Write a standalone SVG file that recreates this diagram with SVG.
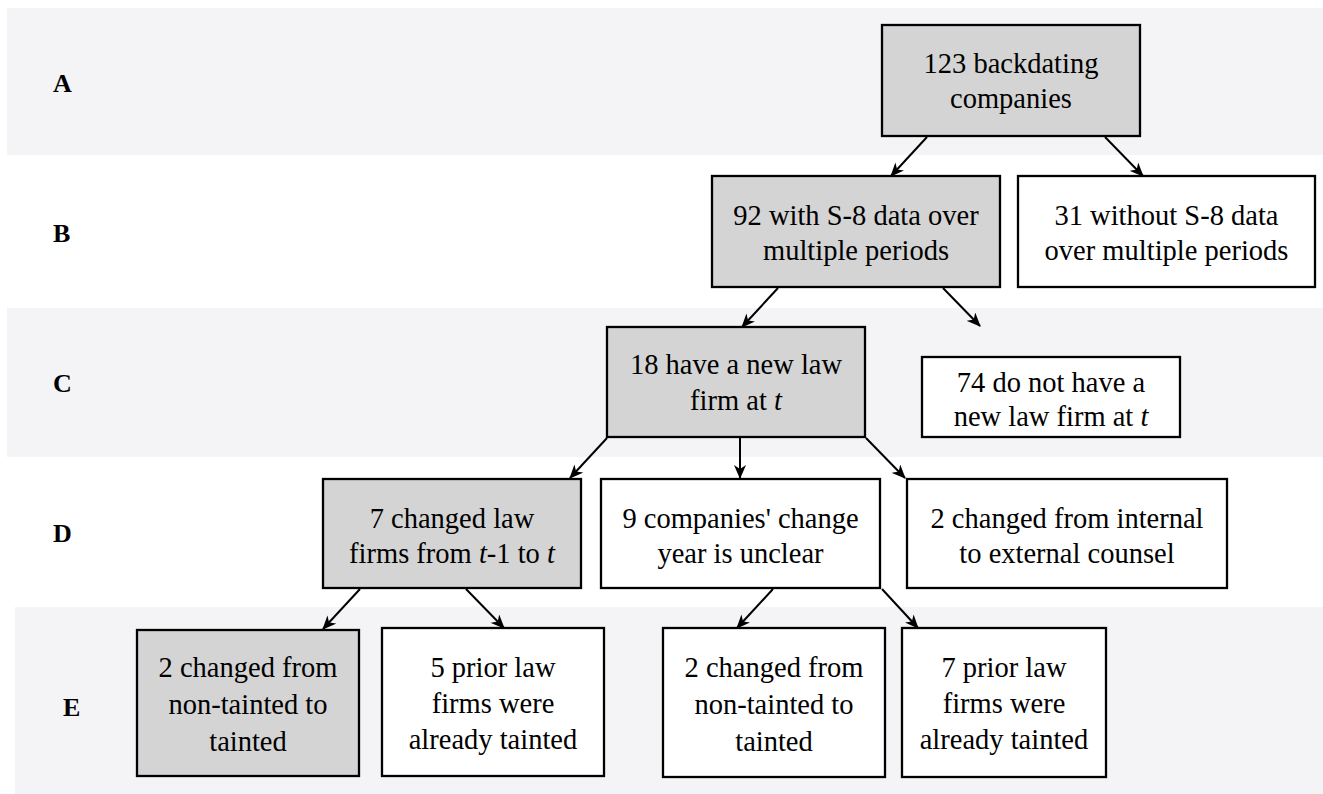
<svg xmlns="http://www.w3.org/2000/svg" width="1323" height="794" viewBox="0 0 1323 794">
<defs>
<style>
.band{fill:#f4f3f6}
.box{stroke:#000;stroke-width:2.3}
.g{fill:#d4d4d4}
.w{fill:#fff}
.t{font-family:'Liberation Serif','DejaVu Serif',serif;font-size:28.5px;font-weight:normal;font-style:normal;fill:#000;text-anchor:middle}
.lab{font-family:'Liberation Serif','DejaVu Serif',serif;font-size:26px;font-weight:bold;fill:#000}
.c{stroke:#000;stroke-width:2;fill:none;marker-end:url(#ah)}
.i{font-style:italic}
</style>
<marker id="ah" viewBox="0 0 14 12" refX="13" refY="6" markerWidth="14" markerHeight="12" markerUnits="userSpaceOnUse" orient="auto">
<path d="M0,0 L14,6 L0,12 L4,6 z" fill="#000"/>
</marker>
</defs>
<rect width="1323" height="794" fill="#fff"/>
<g id="bands">
<rect class="band" x="7" y="8" width="1316" height="147"/>
<rect class="band" x="7" y="308" width="1316" height="149"/>
<rect class="band" x="15" y="607" width="1308" height="187"/>
</g>
<g id="row-labels">
<text class="lab" x="53" y="92">A</text>
<text class="lab" x="53" y="242">B</text>
<text class="lab" x="53" y="392">C</text>
<text class="lab" x="53" y="542">D</text>
<text class="lab" x="63" y="716">E</text>
</g>
<g id="connectors">
<line class="c" x1="927" y1="137" x2="891" y2="176"/>
<line class="c" x1="1105" y1="137" x2="1143" y2="176"/>
<line class="c" x1="778" y1="288" x2="742" y2="327"/>
<line class="c" x1="943" y1="288" x2="980" y2="326"/>
<line class="c" x1="607" y1="438" x2="570" y2="478"/>
<line class="c" x1="740" y1="438" x2="740" y2="478"/>
<line class="c" x1="866" y1="438" x2="905" y2="478"/>
<line class="c" x1="360" y1="589" x2="323" y2="629"/>
<line class="c" x1="466" y1="589" x2="504" y2="628"/>
<line class="c" x1="773" y1="589" x2="737" y2="628"/>
<line class="c" x1="882" y1="589" x2="918" y2="628"/>
</g>
<g id="nA">
<rect class="box g" x="882" y="25" width="258" height="111"/>
<text class="t" x="1011" y="73">123 backdating</text>
<text class="t" x="1011" y="108">companies</text>
</g>
<g id="nB1">
<rect class="box g" x="712" y="176" width="288" height="111"/>
<text class="t" x="856" y="225">92 with S-8 data over</text>
<text class="t" x="856" y="260">multiple periods</text>
</g>
<g id="nB2">
<rect class="box w" x="1018" y="176" width="297" height="111"/>
<text class="t" x="1166.5" y="225">31 without S-8 data</text>
<text class="t" x="1166.5" y="260">over multiple periods</text>
</g>
<g id="nC1">
<rect class="box g" x="607" y="327" width="258" height="110"/>
<text class="t" x="736" y="374">18 have a new law</text>
<text class="t" x="736" y="410">firm at <tspan class="i">t</tspan></text>
</g>
<g id="nC2">
<rect class="box w" x="922" y="357" width="258" height="80"/>
<text class="t" x="1051" y="392">74 do not have a</text>
<text class="t" x="1051" y="426">new law firm at <tspan class="i">t</tspan></text>
</g>
<g id="nD1">
<rect class="box g" x="323" y="479" width="258" height="109"/>
<text class="t" x="452" y="528">7 changed law</text>
<text class="t" x="452" y="563">firms from <tspan class="i">t</tspan>-1 to <tspan class="i">t</tspan></text>
</g>
<g id="nD2">
<rect class="box w" x="601" y="479" width="279" height="109"/>
<text class="t" x="740.5" y="528">9 companies' change</text>
<text class="t" x="740.5" y="563">year is unclear</text>
</g>
<g id="nD3">
<rect class="box w" x="907" y="479" width="320" height="109"/>
<text class="t" x="1067" y="528">2 changed from internal</text>
<text class="t" x="1067" y="563">to external counsel</text>
</g>
<g id="nE1">
<rect class="box g" x="137" y="630" width="222" height="146"/>
<text class="t" x="248" y="677">2 changed from</text>
<text class="t" x="248" y="714">non-tainted to</text>
<text class="t" x="248" y="751">tainted</text>
</g>
<g id="nE2">
<rect class="box w" x="382" y="628" width="222" height="148"/>
<text class="t" x="493" y="677">5 prior law</text>
<text class="t" x="493" y="713">firms were</text>
<text class="t" x="493" y="749">already tainted</text>
</g>
<g id="nE3">
<rect class="box w" x="663" y="628" width="222" height="149"/>
<text class="t" x="774" y="677">2 changed from</text>
<text class="t" x="774" y="714">non-tainted to</text>
<text class="t" x="774" y="751">tainted</text>
</g>
<g id="nE4">
<rect class="box w" x="902" y="628" width="204" height="149"/>
<text class="t" x="1004" y="677">7 prior law</text>
<text class="t" x="1004" y="713">firms were</text>
<text class="t" x="1004" y="749">already tainted</text>
</g>
</svg>
